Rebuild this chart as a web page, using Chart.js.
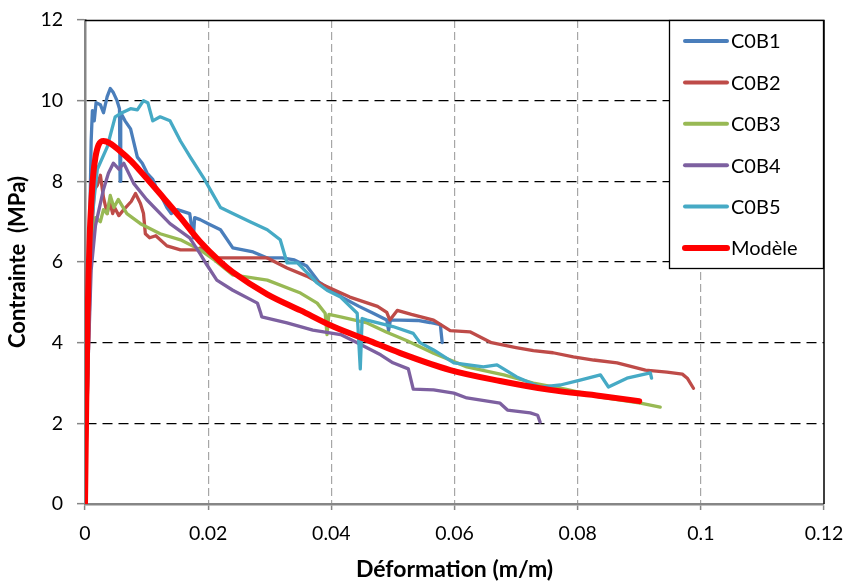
<!DOCTYPE html>
<html>
<head>
<meta charset="utf-8">
<script src="https://cdn.jsdelivr.net/npm/chart.js@4/dist/chart.umd.min.js"></script>
<style>
html,body{margin:0;padding:0;background:#fff;}
#wrap{width:846px;height:583px;}
</style>
</head>
<body>
<div id="wrap"><canvas id="c" width="846" height="583"></canvas></div>
<script>
// ---- Data (strain m/m, stress MPa) ----
const seriesNames = ["C0B1", "C0B2", "C0B3", "C0B4", "C0B5", "Modèle"];
const xTicks = [0, 0.02, 0.04, 0.06, 0.08, 0.1, 0.12];
const yTicks = [0, 2, 4, 6, 8, 10, 12];

const C0B1 = [[0,0],[0.0005,4.5],[0.0010,9.0],[0.0012,9.75],[0.0015,9.5],[0.0018,9.95],[0.0025,9.9],[0.003,9.7],[0.0036,10.1],[0.0041,10.3],[0.0046,10.2],[0.0052,10.0],[0.0056,9.8],[0.0057,8.0],[0.0058,9.7],[0.0065,9.5],[0.0074,9.3],[0.0085,8.6],[0.0093,8.45],[0.0101,8.2],[0.0110,8.05],[0.0117,7.8],[0.0125,7.6],[0.0133,7.35],[0.0140,7.2],[0.0150,7.3],[0.0160,7.25],[0.0170,7.2],[0.0176,6.6],[0.0178,7.1],[0.0187,7.05],[0.0200,6.95],[0.0220,6.8],[0.0240,6.35],[0.0273,6.25],[0.0296,6.1],[0.0320,6.1],[0.0340,6.05],[0.0360,5.9],[0.0380,5.5],[0.0400,5.3],[0.0420,5.1],[0.0445,4.9],[0.0468,4.73],[0.0490,4.56],[0.0493,4.3],[0.0496,4.56],[0.0510,4.56],[0.0540,4.55],[0.0560,4.5],[0.0577,4.45],[0.0580,4.0]];

const C0B2 = [[0,0],[0.0005,3.5],[0.001,6.5],[0.0015,7.8],[0.002,7.9],[0.0025,8.15],[0.003,7.6],[0.0036,7.2],[0.0040,7.5],[0.0045,7.2],[0.0048,7.35],[0.0055,7.15],[0.0063,7.3],[0.0075,7.5],[0.0082,7.7],[0.0090,7.45],[0.0095,7.2],[0.0098,6.7],[0.0105,6.6],[0.0115,6.65],[0.0133,6.4],[0.0155,6.3],[0.018,6.3],[0.0187,6.35],[0.0214,6.1],[0.025,6.1],[0.0296,6.1],[0.0328,5.85],[0.0360,5.65],[0.0387,5.43],[0.043,5.13],[0.0475,4.9],[0.0490,4.75],[0.0495,4.56],[0.0507,4.8],[0.053,4.7],[0.0566,4.56],[0.0593,4.3],[0.0625,4.27],[0.066,4.0],[0.0700,3.88],[0.0728,3.8],[0.0760,3.75],[0.0793,3.65],[0.0826,3.57],[0.0864,3.5],[0.091,3.32],[0.0945,3.27],[0.0970,3.22],[0.0978,3.12],[0.0988,2.87]];

const C0B3 = [[0,0],[0.0005,4],[0.001,6.6],[0.0017,7.1],[0.0025,7.0],[0.003,7.3],[0.0036,7.2],[0.0041,7.65],[0.0047,7.35],[0.0054,7.55],[0.0068,7.2],[0.009,6.95],[0.0122,6.7],[0.0155,6.55],[0.0187,6.3],[0.021,6.05],[0.024,5.68],[0.0296,5.55],[0.035,5.23],[0.0377,4.98],[0.039,4.73],[0.0393,4.2],[0.0396,4.7],[0.0415,4.64],[0.0458,4.49],[0.049,4.26],[0.0523,4.05],[0.0566,3.74],[0.062,3.4],[0.0680,3.2],[0.0728,3.0],[0.0780,2.85],[0.0837,2.65],[0.0902,2.5],[0.0934,2.4]];

const C0B4 = [[0,0],[0.0005,3.5],[0.001,5.8],[0.0017,6.9],[0.003,7.8],[0.0038,8.2],[0.0046,8.45],[0.0055,8.3],[0.0063,8.45],[0.0079,7.95],[0.010,7.55],[0.0138,6.95],[0.017,6.6],[0.0187,6.2],[0.0197,5.95],[0.0214,5.55],[0.024,5.3],[0.028,4.98],[0.0285,4.75],[0.0287,4.64],[0.0328,4.49],[0.037,4.31],[0.0415,4.2],[0.0442,4.0],[0.048,3.7],[0.050,3.5],[0.0525,3.35],[0.0533,2.85],[0.0566,2.83],[0.0599,2.75],[0.062,2.63],[0.0674,2.5],[0.0686,2.33],[0.0723,2.26],[0.0735,2.2],[0.0739,2.03]];

const C0B5 = [[0,0],[0.0005,4],[0.001,6.8],[0.0015,7.6],[0.002,8.3],[0.0036,8.85],[0.0049,9.6],[0.006,9.7],[0.0074,9.8],[0.0085,9.77],[0.0095,10.0],[0.0102,9.95],[0.011,9.5],[0.0122,9.6],[0.0138,9.5],[0.0155,9.0],[0.0171,8.6],[0.0192,8.1],[0.0205,7.75],[0.022,7.35],[0.024,7.2],[0.0268,7.0],[0.0296,6.8],[0.0317,6.55],[0.0328,5.98],[0.0345,5.98],[0.0377,5.48],[0.0393,5.3],[0.0415,5.13],[0.0442,4.73],[0.0447,3.35],[0.0450,4.6],[0.0458,4.56],[0.050,4.4],[0.0533,4.23],[0.0544,4.0],[0.0566,3.82],[0.0599,3.5],[0.0647,3.4],[0.0669,3.45],[0.0701,3.15],[0.0739,2.9],[0.0772,2.95],[0.0804,3.07],[0.0837,3.2],[0.085,2.9],[0.088,3.12],[0.0918,3.25],[0.092,3.12]];

const MODELE = [[0,0],[0.0002,2.5],[0.0004,4.5],[0.0006,5.8],[0.0008,6.8],[0.001,7.4],[0.0013,8.1],[0.0017,8.6],[0.0022,8.9],[0.003,9.0],[0.004,8.95],[0.0057,8.75],[0.0075,8.5],[0.009,8.25],[0.0127,7.6],[0.0155,7.1],[0.0187,6.5],[0.022,6.0],[0.024,5.75],[0.0296,5.2],[0.035,4.8],[0.0403,4.4],[0.0458,4.07],[0.0512,3.74],[0.0593,3.32],[0.0674,3.05],[0.0755,2.83],[0.0837,2.68],[0.09,2.55]];

const colors = ["#4A7EBB", "#BE4B48", "#98B954", "#7D60A0", "#46AAC5", "#FF0000"];
const allData = [C0B1, C0B2, C0B3, C0B4, C0B5, MODELE];

const FONT = "Lato, 'Open Sans', sans-serif";

const datasets = allData.map((d, i) => ({
  label: seriesNames[i],
  data: d.map(p => ({x: p[0], y: p[1]})),
  borderColor: colors[i],
  backgroundColor: colors[i],
  borderWidth: i === 5 ? 6 : 3.3,
  pointRadius: 0,
  showLine: true,
  fill: false,
  tension: i === 5 ? 0.4 : 0,
  cubicInterpolationMode: i === 5 ? 'monotone' : 'default',
  borderCapStyle: 'round',
  borderJoinStyle: 'round',
  order: i === 5 ? 0 : 6 - i
}));

const frame = {
  id: 'frame',
  beforeDatasetsDraw(chart) {
    const {ctx, chartArea: a} = chart;
    ctx.save();
    ctx.strokeStyle = '#000';
    ctx.lineWidth = 1.5;
    ctx.beginPath();
    ctx.moveTo(a.left, a.top + 0.5);
    ctx.lineTo(a.right, a.top + 0.5);
    ctx.lineTo(a.right, a.bottom);
    ctx.stroke();
    ctx.restore();
  },
  afterDraw(chart) {
    const {ctx} = chart;
    const bx = 669.5, by = 20.5, bw = 154, bh = 248;
    ctx.save();
    ctx.fillStyle = '#fff';
    ctx.fillRect(bx, by, bw, bh);
    ctx.strokeStyle = '#000';
    ctx.lineWidth = 1.3;
    ctx.strokeRect(bx, by, bw, bh);
    ctx.font = "20px " + FONT;
    ctx.textBaseline = 'middle';
    ctx.textAlign = 'left';
    chart.data.datasets.forEach((ds, i) => {
      const y = 41 + i * 41.4;
      ctx.strokeStyle = ds.borderColor;
      ctx.lineWidth = i === 5 ? 6 : 4;
      ctx.lineCap = 'round';
      ctx.beginPath();
      ctx.moveTo(685, y);
      ctx.lineTo(727, y);
      ctx.stroke();
      ctx.fillStyle = '#000';
      ctx.fillText(ds.label, 731, y + 1);
    });
    ctx.restore();
  }
};

new Chart(document.getElementById('c'), {
  type: 'scatter',
  data: {datasets},
  plugins: [frame],
  options: {
    responsive: false,
    animation: false,
    events: [],
    layout: {padding: {left: 0, top: 20, right: 22, bottom: 0}},
    plugins: {legend: {display: false}, tooltip: {enabled: false}},
    scales: {
      x: {
        type: 'linear',
        min: 0, max: 0.12,
        afterFit: s => { s.height = 79; s.paddingLeft = 0; s.paddingRight = 0; },
        afterBuildTicks: s => { s.ticks = xTicks.map(v => ({value: v})); },
        ticks: {
          color: '#000',
          font: {family: FONT, size: 19.5},
          padding: 12,
          maxRotation: 0,
          autoSkip: false,
          callback: v => String(+v.toFixed(2))
        },
        grid: {
          color: ctx => (ctx.tick && (ctx.tick.value === 0 || Math.abs(ctx.tick.value - 0.12) < 1e-9)) ? 'rgba(0,0,0,0)' : '#A6A6A6',
          lineWidth: 1.2,
          tickColor: '#868686',
          tickLength: 6,
          tickWidth: 1.5
        },
        border: {color: '#868686', width: 2.5, dash: [8, 4]},
        title: {
          display: true,
          text: 'Déformation (m/m)',
          color: '#000',
          font: {family: FONT, size: 23, weight: 'bold'},
          padding: {top: 0, bottom: 0}
        }
      },
      y: {
        type: 'linear',
        min: 0, max: 12,
        afterFit: s => { s.width = 85; s.paddingTop = 0; s.paddingBottom = 0; },
        afterBuildTicks: s => { s.ticks = yTicks.map(v => ({value: v})); },
        ticks: {
          color: '#000',
          font: {family: FONT, size: 19.5},
          padding: 14,
          callback: v => String(v)
        },
        grid: {
          color: ctx => (ctx.tick && (ctx.tick.value === 0 || ctx.tick.value === 12)) ? 'rgba(0,0,0,0)' : '#000',
          lineWidth: 1.3,
          tickColor: '#868686',
          tickLength: 8,
          tickWidth: 1.5,
          tickBorderDash: []
        },
        border: {color: '#868686', width: 2.5, dash: [10, 6]},
        title: {
          display: true,
          text: 'Contrainte  (MPa)',
          color: '#000',
          font: {family: FONT, size: 22, weight: 'bold'},
          padding: {top: 5, bottom: 0}
        }
      }
    }
  }
});
</script>
</body>
</html>
